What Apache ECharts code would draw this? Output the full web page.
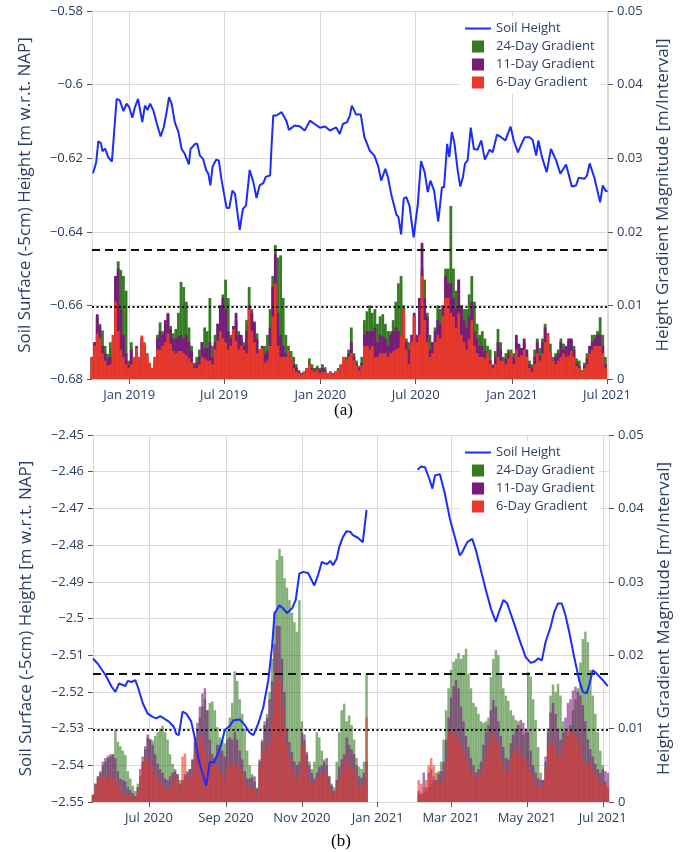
<!DOCTYPE html>
<html lang="en">
<head>
<meta charset="UTF-8">
<title>Soil height and gradient magnitude</title>
<script src="https://cdn.jsdelivr.net/npm/echarts@6.0.0/dist/echarts.min.js"></script>
<style>
    * { margin: 0; padding: 0; }
    body { background: #fff; }
    #chart { width: 694px; height: 852px; }
</style>
</head>
<body>
<div id="chart"></div>
<script>
// ---------- panel (a) ----------
// [day offset from topStart, soil height]
var topStart = [2018, 9, 22];
var topEnd = [2021, 6, 3];
var topHeight = [[2,-0.6241],[8,-0.6211],[12,-0.6154],[17,-0.6159],[20,-0.6181],[25,-0.6174],[31,-0.6197],[38,-0.6209],[42,-0.6134],[47,-0.6039],
    [53,-0.6043],[60,-0.6072],[66,-0.6052],[71,-0.6061],[77,-0.609],[82,-0.6061],[88,-0.6039],[96,-0.6102],[101,-0.6057],[106,-0.6069],
    [111,-0.6052],[117,-0.607],[124,-0.6107],[131,-0.6141],[137,-0.6116],[143,-0.607],[147,-0.6034],[152,-0.6052],[158,-0.6102],[165,-0.6129],
    [171,-0.6175],[177,-0.6188],[185,-0.6217],[188,-0.6175],[197,-0.6161],[201,-0.6161],[206,-0.6193],[212,-0.6202],[218,-0.6233],[222,-0.6242],
    [226,-0.6274],[230,-0.6224],[237,-0.6204],[242,-0.6206],[247,-0.6256],[252,-0.6297],[257,-0.6335],[262,-0.6335],[268,-0.6288],[273,-0.6297],
    [277,-0.6342],[282,-0.6395],[288,-0.6338],[294,-0.6329],[301,-0.6232],[308,-0.6265],[314,-0.6308],[320,-0.6274],[327,-0.6268],[332,-0.625],
    [340,-0.6247],[343,-0.6161],[346,-0.6084],[352,-0.6084],[362,-0.6075],[371,-0.6098],[376,-0.6123],[387,-0.6111],[397,-0.6114],[406,-0.6125],
    [416,-0.6098],[425,-0.6107],[435,-0.6117],[445,-0.6114],[454,-0.6125],[466,-0.6116],[473,-0.6134],[479,-0.6107],[487,-0.6102],[492,-0.6085],
    [496,-0.6057],[504,-0.6081],[513,-0.6081],[520,-0.6143],[530,-0.6179],[539,-0.6193],[546,-0.622],[552,-0.6261],[560,-0.6229],[565,-0.6252],
    [571,-0.6297],[581,-0.6353],[585,-0.636],[590,-0.6407],[595,-0.631],[600,-0.6306],[606,-0.6329],[614,-0.6415],[622,-0.6324],[628,-0.6208],
    [635,-0.6238],[641,-0.6292],[646,-0.6261],[653,-0.6288],[661,-0.6372],[668,-0.6279],[672,-0.6279],[678,-0.6161],[682,-0.6197],[687,-0.6129],
    [692,-0.6161],[698,-0.6233],[703,-0.6277],[708,-0.6252],[712,-0.6215],[717,-0.6206],[723,-0.6117],[729,-0.6175],[736,-0.6177],[743,-0.6152],
    [750,-0.6204],[759,-0.6177],[765,-0.6184],[773,-0.6136],[781,-0.6143],[789,-0.6152],[799,-0.6114],[805,-0.6152],[813,-0.6184],[820,-0.6161],
    [826,-0.6143],[835,-0.6143],[841,-0.615],[848,-0.6193],[852,-0.6152],[859,-0.6197],[868,-0.6238],[876,-0.6175],[886,-0.6206],[894,-0.6242],
    [905,-0.6217],[916,-0.6277],[924,-0.6274],[929,-0.6253],[940,-0.6256],[945,-0.6247],[950,-0.6214],[959,-0.6253],[970,-0.632],[975,-0.6274],
    [981,-0.629],[984,-0.6288]];

// gradient magnitudes, one bar every topStep days from topStart
var topStep = 5;
var topG24 = [0.003,0.005,0.0085,0.0075,0.0066,0.0045,0.0034,0.005,0.0045,0.014,
    0.016,0.0148,0.014,0.012,0.0025,0.005,0.0028,0.004,0.003,0.0055,
    0.0045,0.0035,0.002,0.0015,0.003,0.006,0.0077,0.0065,0.0075,0.009,
    0.0072,0.0062,0.0068,0.009,0.0132,0.0125,0.0105,0.007,0.0045,0.0022,
    0.003,0.004,0.005,0.007,0.0065,0.011,0.0045,0.006,0.0075,0.01,
    0.0115,0.0135,0.011,0.006,0.007,0.008,0.0065,0.0055,0.005,0.008,
    0.0125,0.0095,0.0075,0.0062,0.004,0.0045,0.0045,0.006,0.0095,0.014,
    0.0182,0.0165,0.0168,0.011,0.006,0.0045,0.0038,0.003,0.002,0.0012,
    0.0008,0.001,0.0015,0.0028,0.002,0.0015,0.0018,0.0015,0.002,0.0016,
    0.0008,0.001,0.0008,0.001,0.0015,0.002,0.0025,0.003,0.004,0.007,
    0.0035,0.0025,0.0018,0.003,0.008,0.0092,0.01,0.009,0.0095,0.0075,
    0.0085,0.0088,0.0075,0.0065,0.0065,0.008,0.0105,0.013,0.014,0.01,
    0.0055,0.005,0.0045,0.0085,0.006,0.011,0.015,0.0135,0.009,0.006,
    0.005,0.007,0.01,0.0095,0.01,0.015,0.015,0.0235,0.015,0.012,
    0.0135,0.01,0.0095,0.0095,0.0115,0.014,0.0105,0.0075,0.006,0.0065,
    0.0055,0.0045,0.004,0.002,0.0038,0.0068,0.005,0.003,0.0035,0.004,
    0.004,0.0035,0.005,0.0045,0.0042,0.005,0.0035,0.0025,0.002,0.004,
    0.0055,0.0042,0.0055,0.0075,0.0062,0.0048,0.003,0.0035,0.004,0.0055,
    0.0048,0.004,0.0052,0.0052,0.0045,0.0028,0.0025,0.0012,0.0022,0.0035,
    0.0045,0.006,0.006,0.0065,0.0084,0.006,0.003];
var topG11 = [0.003,0.005,0.0088,0.0072,0.0045,0.0035,0.0028,0.003,0.004,0.014,
    0.015,0.0095,0.006,0.0035,0.002,0.004,0.0025,0.0045,0.0028,0.0055,
    0.0045,0.0032,0.002,0.0015,0.0025,0.0055,0.0065,0.006,0.008,0.0088,
    0.0068,0.0055,0.0055,0.0058,0.006,0.0055,0.006,0.005,0.0038,0.0018,
    0.0022,0.003,0.005,0.0042,0.0042,0.005,0.003,0.005,0.0075,0.01,
    0.011,0.0095,0.0065,0.0055,0.0072,0.009,0.006,0.006,0.0045,0.0065,
    0.01,0.009,0.0078,0.0055,0.004,0.0045,0.0035,0.0038,0.007,0.0125,
    0.017,0.009,0.006,0.0045,0.0035,0.0035,0.003,0.002,0.0015,0.001,
    0.0008,0.001,0.0014,0.002,0.0015,0.0012,0.0014,0.0012,0.0015,0.0012,
    0.0008,0.001,0.0006,0.001,0.0012,0.0018,0.0025,0.0025,0.0035,0.005,
    0.003,0.002,0.0015,0.0022,0.006,0.0065,0.0065,0.0065,0.007,0.005,
    0.006,0.0058,0.0055,0.0045,0.006,0.0065,0.007,0.0065,0.0055,0.0095,
    0.005,0.004,0.006,0.009,0.006,0.011,0.0185,0.011,0.0085,0.004,
    0.005,0.0065,0.008,0.0075,0.01,0.014,0.013,0.013,0.011,0.0095,
    0.0135,0.01,0.008,0.007,0.0085,0.0105,0.0065,0.0055,0.0045,0.0045,
    0.0038,0.0035,0.0025,0.0018,0.003,0.005,0.004,0.0025,0.0028,0.0035,
    0.003,0.003,0.006,0.0048,0.0042,0.0055,0.004,0.002,0.0015,0.003,
    0.005,0.0032,0.005,0.007,0.0062,0.0038,0.0025,0.003,0.0035,0.005,
    0.004,0.0045,0.0055,0.0055,0.004,0.0022,0.0018,0.001,0.0018,0.0028,
    0.0045,0.005,0.0055,0.006,0.006,0.0045,0.002];
var topG6 = [0.003,0.0045,0.0062,0.0055,0.0035,0.0025,0.0018,0.002,0.006,0.0105,
    0.0065,0.004,0.003,0.002,0.0015,0.002,0.003,0.0042,0.003,0.0059,
    0.005,0.0035,0.0022,0.0015,0.003,0.004,0.004,0.0045,0.005,0.0062,
    0.0048,0.0038,0.0035,0.0038,0.0038,0.0035,0.0032,0.0028,0.0022,0.0015,
    0.0015,0.002,0.003,0.0028,0.0025,0.0025,0.002,0.004,0.0052,0.0065,
    0.0055,0.005,0.004,0.0045,0.0068,0.0052,0.004,0.0045,0.004,0.0035,
    0.0095,0.0065,0.005,0.0035,0.004,0.0042,0.0022,0.0025,0.0045,0.0085,
    0.013,0.0045,0.003,0.003,0.003,0.004,0.003,0.0015,0.001,0.0008,
    0.0006,0.001,0.0015,0.002,0.0012,0.001,0.0012,0.0008,0.001,0.001,
    0.0008,0.001,0.0006,0.001,0.0012,0.0018,0.003,0.0025,0.003,0.0035,
    0.0025,0.0018,0.0012,0.0018,0.0045,0.0045,0.004,0.0045,0.003,0.003,
    0.0035,0.0035,0.0035,0.003,0.0035,0.0038,0.004,0.0042,0.006,0.0095,
    0.004,0.002,0.005,0.0085,0.005,0.006,0.014,0.008,0.005,0.003,
    0.0035,0.005,0.006,0.0055,0.0085,0.011,0.011,0.009,0.0085,0.007,
    0.009,0.006,0.005,0.004,0.0055,0.008,0.0045,0.0035,0.003,0.003,
    0.0028,0.0035,0.002,0.0015,0.002,0.003,0.0025,0.0025,0.002,0.0028,
    0.0035,0.002,0.004,0.003,0.0032,0.004,0.003,0.0015,0.001,0.002,
    0.0035,0.0025,0.0035,0.005,0.0062,0.0038,0.0025,0.002,0.0025,0.003,
    0.0035,0.003,0.0032,0.0038,0.003,0.0018,0.0015,0.001,0.0015,0.002,
    0.0035,0.004,0.0045,0.0045,0.0045,0.0035,0.0015];

// ---------- panel (b) ----------
var botStart = [2020, 4, 17];
var botEnd = [2021, 6, 6];
var botHeight = [[0,-2.5109],[4,-2.5124],[10,-2.5154],[15,-2.5186],[18,-2.52],[21,-2.5177],[26,-2.5184],[28,-2.517],[31,-2.5173],[34,-2.5168],
    [36,-2.5186],[40,-2.5231],[44,-2.5259],[48,-2.5268],[51,-2.5272],[54,-2.5266],[57,-2.5272],[61,-2.5281],[65,-2.5295],[67,-2.5315],
    [69,-2.5318],[72,-2.5254],[75,-2.5259],[79,-2.5281],[82,-2.5327],[85,-2.5386],[89,-2.5431],[91,-2.5456],[94,-2.539],[97,-2.5393],
    [100,-2.5372],[103,-2.5345],[106,-2.5304],[110,-2.5293],[113,-2.5277],[118,-2.5275],[122,-2.529],[126,-2.5311],[129,-2.5318],[133,-2.5286],
    [137,-2.5241],[141,-2.5168],[144,-2.5077],[146,-2.4987],[150,-2.4964],[153,-2.4973],[156,-2.4985],[160,-2.4973],[163,-2.495],[166,-2.4878],
    [169,-2.4873],[173,-2.4876],[178,-2.491],[181,-2.4882],[184,-2.4846],[188,-2.4852],[191,-2.4843],[193,-2.4855],[196,-2.4837],[198,-2.4805],
    [201,-2.4778],[204,-2.4762],[207,-2.4764],[209,-2.4773],[213,-2.478],[217,-2.4792],[218,-2.4795],[220,-2.4704],[240,null],
    [261,-2.4595],[264,-2.4586],[267,-2.4588],[271,-2.4624],[273,-2.4646],[275,-2.461],[279,-2.4607],[283,-2.466],[287,-2.4728],[291,-2.4778],
    [295,-2.4828],[297,-2.4819],[301,-2.4792],[305,-2.4783],[308,-2.4814],[312,-2.4869],[316,-2.4923],[320,-2.4973],[324,-2.5009],[326,-2.4987],
    [330,-2.495],[333,-2.4958],[336,-2.4987],[340,-2.5027],[344,-2.5068],[348,-2.5105],[352,-2.5121],[355,-2.5118],[358,-2.5109],[361,-2.5114],
    [364,-2.5064],[368,-2.5023],[371,-2.4982],[374,-2.4959],[377,-2.4959],[380,-2.4991],[383,-2.5037],[387,-2.5105],[391,-2.5168],[394,-2.52],
    [397,-2.5204],[399,-2.5182],[402,-2.5141],[405,-2.515],[410,-2.5168],[414,-2.5184]];

var botStep = 2;
var botG24 = [0.001,0.0025,0.0035,0.004,0.005,0.0055,0.006,0.0062,0.0065,0.0098,
    0.0082,0.0076,0.007,0.0064,0.0042,0.0032,0.0022,0.0015,0.0025,0.0035,
    0.0055,0.0072,0.0088,0.0086,0.0084,0.009,0.0095,0.01,0.0104,0.0095,
    0.0085,0.0065,0.0052,0.0045,0.0038,0.003,0.003,0.0035,0.004,0.0045,
    0.0058,0.008,0.01,0.0115,0.013,0.014,0.0125,0.0135,0.0137,0.0125,
    0.0102,0.0088,0.0084,0.008,0.0098,0.0115,0.0135,0.0178,0.0165,0.014,
    0.012,0.01,0.007,0.005,0.0038,0.0028,0.002,0.0055,0.0085,0.011,
    0.012,0.015,0.0195,0.026,0.033,0.0345,0.0335,0.0305,0.0292,0.0275,
    0.0258,0.0245,0.0232,0.0275,0.011,0.0085,0.0065,0.0055,0.0045,0.0055,
    0.0095,0.0088,0.007,0.0058,0.005,0.0035,0.0025,0.002,0.0055,0.0095,
    0.0125,0.0134,0.011,0.0118,0.0105,0.0085,0.006,0.0048,0.0045,0.0055,
    0.0175,null,null,null,null,null,null,null,null,null,
    null,null,null,null,null,null,null,null,null,null,
    null,0.001,0.001,0.0012,0.0015,0.002,0.0025,0.003,0.004,0.0042,
    0.0055,0.0085,0.0125,0.0155,0.018,0.0191,0.0195,0.0203,0.0195,0.02,
    0.0209,0.0175,0.0155,0.0135,0.013,0.012,0.011,0.0108,0.011,0.0115,
    0.017,0.0195,0.0207,0.02,0.0175,0.0155,0.0145,0.0138,0.0125,0.0118,
    0.0112,0.011,0.01,0.0092,0.0095,0.0177,0.0171,0.014,0.0112,0.0075,
    0.004,0.003,0.0055,0.01,0.0145,0.016,0.015,0.0161,0.0145,0.011,
    0.01,0.009,0.0105,0.0125,0.014,0.0155,0.019,0.0222,0.0232,0.0218,
    0.018,0.0145,0.012,0.0095,0.007,0.005,0.0028,0.002];
var botG11 = [0.001,0.0025,0.0035,0.0042,0.0055,0.006,0.0063,0.0065,0.0065,0.006,
    0.0042,0.0032,0.003,0.0028,0.002,0.0016,0.0012,0.0008,0.002,0.0045,
    0.0062,0.0076,0.0092,0.0085,0.0078,0.0065,0.0052,0.0045,0.004,0.0032,
    0.003,0.0035,0.004,0.0042,0.0038,0.0025,0.003,0.0038,0.0042,0.0045,
    0.0058,0.0088,0.0108,0.013,0.0148,0.0155,0.0125,0.0085,0.0065,0.006,
    0.0078,0.0078,0.007,0.0062,0.0085,0.0088,0.0085,0.0095,0.0085,0.007,
    0.0058,0.0042,0.0032,0.0032,0.0034,0.0035,0.0018,0.0058,0.0082,0.0105,
    0.0115,0.014,0.0165,0.0215,0.024,0.024,0.0195,0.015,0.01,0.0082,
    0.0068,0.0055,0.005,0.0055,0.0095,0.0092,0.0068,0.005,0.004,0.0032,
    0.004,0.0048,0.005,0.0055,0.006,0.0035,0.0022,0.0015,0.003,0.0048,
    0.0058,0.0065,0.0088,0.0078,0.0072,0.0065,0.005,0.0035,0.0033,0.004,
    0.0055,null,null,null,null,null,null,null,null,null,
    null,null,null,null,null,null,null,null,null,null,
    null,0.0015,0.0012,0.004,0.002,0.004,0.0045,0.0035,0.003,0.0038,
    0.0042,0.0055,0.0085,0.0115,0.0142,0.0158,0.0166,0.0155,0.013,0.011,
    0.009,0.0075,0.006,0.005,0.004,0.0045,0.0055,0.0078,0.0095,0.0105,
    0.0125,0.0139,0.013,0.011,0.009,0.0075,0.006,0.0058,0.008,0.0092,
    0.01,0.0105,0.0112,0.0108,0.01,0.0095,0.007,0.005,0.004,0.0032,
    0.003,0.003,0.0062,0.0095,0.0122,0.0135,0.012,0.01,0.0085,0.0095,
    0.0115,0.0135,0.014,0.0152,0.0157,0.015,0.0145,0.0132,0.011,0.0085,
    0.0072,0.0062,0.0052,0.0045,0.004,0.0045,0.0042,0.004];
var botG6 = [0.0008,0.002,0.003,0.0033,0.0035,0.0035,0.0035,0.0035,0.0033,0.003,
    0.0022,0.0016,0.0012,0.001,0.001,0.0008,0.0006,0.0005,0.0015,0.0035,
    0.005,0.006,0.0056,0.0052,0.0048,0.004,0.003,0.0026,0.0024,0.002,
    0.0018,0.002,0.0028,0.0032,0.0033,0.002,0.0062,0.0066,0.004,0.003,
    0.0038,0.0065,0.0082,0.009,0.0088,0.0072,0.0055,0.0048,0.0062,0.005,
    0.005,0.0042,0.0038,0.003,0.0048,0.005,0.0052,0.0055,0.005,0.0046,
    0.0042,0.003,0.0022,0.002,0.002,0.0018,0.001,0.0048,0.0068,0.0082,
    0.0065,0.008,0.0115,0.016,0.0185,0.0165,0.013,0.0105,0.0078,0.006,
    0.0048,0.0038,0.003,0.004,0.0078,0.0076,0.005,0.003,0.0025,0.0028,
    0.003,0.0035,0.0038,0.004,0.004,0.0025,0.0015,0.001,0.002,0.003,
    0.004,0.0055,0.0066,0.0052,0.0048,0.0042,0.003,0.0022,0.002,0.0025,
    0.0115,null,null,null,null,null,null,null,null,null,
    null,null,null,null,null,null,null,null,null,null,
    null,0.003,0.0025,0.002,0.003,0.005,0.006,0.005,0.0025,0.004,
    0.0025,0.0032,0.0055,0.0092,0.0098,0.0095,0.009,0.0085,0.008,0.007,
    0.006,0.005,0.004,0.004,0.003,0.0035,0.004,0.005,0.0065,0.008,
    0.0088,0.0095,0.0085,0.008,0.006,0.005,0.0042,0.004,0.0055,0.0068,
    0.0072,0.0075,0.0065,0.0062,0.0058,0.005,0.004,0.0035,0.0025,0.002,
    0.002,0.0022,0.0045,0.0075,0.0085,0.008,0.0075,0.006,0.0062,0.0075,
    0.0088,0.0096,0.0095,0.0095,0.0092,0.0085,0.0078,0.0062,0.0052,0.005,
    0.0055,0.0045,0.004,0.0032,0.0028,0.0025,0.0025,0.002];

// axis ticks and reference levels
var topTicks = [[2019,0,1],[2019,6,1],[2020,0,1],[2020,6,1],[2021,0,1],[2021,6,1]];
var botTicks = [[2020,6,1],[2020,8,1],[2020,10,1],[2021,0,1],[2021,2,1],[2021,4,1],[2021,6,1]];
var months = ['Jan','Feb','Mar','Apr','May','Jun','Jul','Aug','Sep','Oct','Nov','Dec'];
var dashedLevel = 0.0175;
var dottedLevel = 0.0098;

var textColor = '#2a3f5f';
var gridColor = '#dadada';
var font = 'Open Sans';
var blue = '#1b2dfb';
var green = '#347b22';
var purple = '#781b7a';
var red = '#e8382a';
var square = 'path://M0,0L10,0L10,10L0,10Z';
var dash = 'path://M0,0L26,0L26,2L0,2Z';

function dayTime(start, n) {
    return new Date(start[0], start[1], start[2] + n).getTime();
}

function lineData(start, rows) {
    return rows.map(function (r) { return [dayTime(start, r[0]), r[1]]; });
}

function barData(start, step, vals) {
    return vals.map(function (v, i) { return [dayTime(start, i * step), v]; });
}

// value axis holding timestamps, with month ticks placed by hand
function xAxisFor(gi, start, end, ticks) {
    var vals = ticks.map(function (d) { return new Date(d[0], d[1], d[2]).getTime(); });
    return {
        type: 'value',
        gridIndex: gi,
        min: dayTime(start, 0),
        max: dayTime(end, 0),
        axisLine: { show: true, onZero: false, lineStyle: { color: gridColor } },
        axisTick: { show: true, customValues: vals, length: 5, lineStyle: { color: '#555' } },
        axisLabel: {
            customValues: vals,
            color: textColor, fontSize: 13, fontFamily: font, margin: 10,
            formatter: function (v) {
                var d = new Date(v);
                return months[d.getMonth()] + ' ' + d.getFullYear();
            }
        },
        splitLine: { show: true, lineStyle: { color: gridColor } }
    };
}

function leftAxis(gi, min, max, step) {
    return {
        type: 'value', gridIndex: gi, position: 'left',
        min: min, max: max, interval: step,
        name: 'Soil Surface (-5cm) Height [m w.r.t. NAP]',
        nameLocation: 'middle', nameGap: 58,
        nameTextStyle: { color: textColor, fontSize: 17, fontFamily: font },
        axisLine: { show: true, lineStyle: { color: gridColor } },
        axisTick: { show: true, length: 5, lineStyle: { color: '#555' } },
        axisLabel: {
            color: textColor, fontSize: 13, fontFamily: font, margin: 9,
            formatter: function (v) { return '\u2212' + parseFloat(Math.abs(v).toFixed(4)); }
        },
        splitLine: { show: true, lineStyle: { color: gridColor } }
    };
}

function rightAxis(gi) {
    return {
        type: 'value', gridIndex: gi, position: 'right',
        min: 0, max: 0.05, interval: 0.01,
        name: 'Height Gradient Magnitude [m/Interval]',
        nameLocation: 'middle', nameGap: 47,
        nameTextStyle: { color: textColor, fontSize: 17, fontFamily: font },
        axisLine: { show: true, lineStyle: { color: gridColor } },
        axisTick: { show: true, length: 5, lineStyle: { color: '#555' } },
        axisLabel: {
            color: textColor, fontSize: 13, fontFamily: font, margin: 9,
            formatter: function (v) { return String(parseFloat(v.toFixed(4))); }
        },
        splitLine: { show: false }
    };
}

function legendFor(top) {
    return {
        orient: 'vertical', left: 460, top: top,
        padding: 5, itemWidth: 26, itemHeight: 12, itemGap: 5,
        backgroundColor: '#fff',
        textStyle: { color: textColor, fontSize: 13, fontFamily: font },
        data: [
            { name: 'Soil Height', icon: dash },
            { name: '24-Day Gradient', icon: square },
            { name: '11-Day Gradient', icon: square },
            { name: '6-Day Gradient', icon: square }
        ]
    };
}

function panelSeries(gi, yLeft, yRight, start, heights, step, g24, g11, g6, barWidth, opacity) {
    function bars(name, color, vals) {
        return {
            name: name, type: 'bar', xAxisIndex: gi, yAxisIndex: yRight,
            barWidth: barWidth, barGap: '-100%', z: 2,
            itemStyle: { color: color, opacity: opacity },
            data: barData(start, step, vals)
        };
    }
    var last = bars('6-Day Gradient', red, g6);
    last.markLine = {
        silent: true, precision: 5, symbol: ['none', 'none'], label: { show: false },
        data: [
            { yAxis: dashedLevel, lineStyle: { color: '#111', width: 2, type: [8, 5] } },
            { yAxis: dottedLevel, lineStyle: { color: '#111', width: 2, type: [2, 2.5] } }
        ]
    };
    return [
        bars('24-Day Gradient', green, g24),
        bars('11-Day Gradient', purple, g11),
        last,
        {
            name: 'Soil Height', type: 'line', xAxisIndex: gi, yAxisIndex: yLeft,
            symbol: 'none', showSymbol: false, z: 5,
            lineStyle: { color: blue, width: 2 },
            itemStyle: { color: blue },
            data: lineData(start, heights)
        }
    ];
}

var chart = echarts.init(document.getElementById('chart'));

chart.setOption({
    animation: false,
    backgroundColor: '#fff',
    title: [
        { text: '(a)', left: 334, top: 402, padding: 0,
          textStyle: { fontFamily: 'Liberation Serif', fontSize: 17, fontWeight: 'normal', color: '#000' } },
        { text: '(b)', left: 331, top: 833, padding: 0,
          textStyle: { fontFamily: 'Liberation Serif', fontSize: 17, fontWeight: 'normal', color: '#000' } }
    ],
    legend: [legendFor(17), legendFor(441)],
    grid: [
        { left: 92, right: 86, top: 11, height: 368 },
        { left: 93, right: 85, top: 435, height: 367 }
    ],
    xAxis: [
        xAxisFor(0, topStart, topEnd, topTicks),
        xAxisFor(1, botStart, botEnd, botTicks)
    ],
    yAxis: [
        leftAxis(0, -0.68, -0.58, 0.02),
        rightAxis(0),
        leftAxis(1, -2.55, -2.45, 0.01),
        rightAxis(1)
    ],
    series: [].concat(
        panelSeries(0, 0, 1, topStart, topHeight, topStep, topG24, topG11, topG6, 2.8, 1),
        panelSeries(1, 2, 3, botStart, botHeight, botStep, botG24, botG11, botG6, 2.5, 0.6)
    )
});
</script>
</body>
</html>
